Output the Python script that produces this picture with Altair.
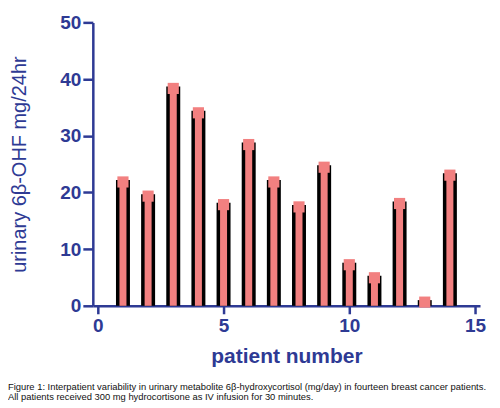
import altair as alt
import pandas as pd

patients = [1, 2, 3, 4, 5, 6, 7, 8, 9, 10, 11, 12, 13, 14]
values = [22.2, 19.7, 38.7, 34.4, 18.2, 28.8, 22.2, 17.8, 24.8, 7.6, 5.3, 18.4, 1.0, 23.4]
x_ticks = [0, 5, 10, 15]
y_ticks = [0, 10, 20, 30, 40, 50]
caption_1 = "Figure 1: Interpatient variability in urinary metabolite 6\u03b2-hydroxycortisol (mg/day) in fourteen breast cancer patients."
caption_2 = "All patients received 300 mg hydrocortisone as IV infusion for 30 minutes."

BLUE = "#2E3A94"
PINK = "#F28080"
FONT = "Liberation Sans"
W, H = 388, 284

df = pd.DataFrame({"patient": patients, "value": values})

x = alt.X("patient:Q", scale=alt.Scale(domain=[0, 15], nice=False),
          axis=alt.Axis(values=x_ticks, title="patient number", format="d"))
y = alt.Y("value:Q", scale=alt.Scale(domain=[0, 50], nice=False),
          axis=alt.Axis(values=y_ticks, title="urinary 6\u03b2-OHF mg/24hr", format="d"))

black = alt.Chart(df).mark_bar(size=14, color="black").encode(x=x, y=y)
inner = alt.Chart(df).mark_bar(size=7, color=PINK).encode(
    x="patient:Q", y="value:Q", y2=alt.value(H - 3))
tops = alt.Chart(df).mark_point(shape="square", size=125, filled=True, color=PINK, opacity=1).encode(
    x="patient:Q", y="value:Q", yOffset=alt.value(2))


def cap_layer(txt, ypix):
    return alt.Chart(pd.DataFrame({"line": [txt]})).mark_text(
        align="left", baseline="alphabetic", fontSize=9.4, font=FONT, color="#111111"
    ).encode(text="line:N", x=alt.value(-85), y=alt.value(ypix))


chart = alt.layer(black, inner, tops, cap_layer(caption_1, 368), cap_layer(caption_2, 378)).properties(
    width=W, height=H,
    autosize=alt.AutoSizeParams(type="none"),
    padding={"left": 85, "top": 14, "right": 12, "bottom": 96},
).configure_view(stroke=None).configure_axis(
    grid=False,
    domainColor=BLUE, domainWidth=2.5,
    tickColor=BLUE, tickWidth=2.5,
    labelColor=BLUE, labelFont=FONT, labelFontWeight="bold", labelFontSize=19,
    titleColor=BLUE, titleFont=FONT,
).configure_axisX(
    tickSize=8, labelPadding=3, titleFontSize=21, titleFontWeight="bold", titlePadding=10,
).configure_axisY(
    tickSize=10, labelPadding=2, titleFontSize=20, titleFontWeight="normal", titlePadding=30,
)

chart.save("out.html", embed_options={"renderer": "svg", "actions": False})
